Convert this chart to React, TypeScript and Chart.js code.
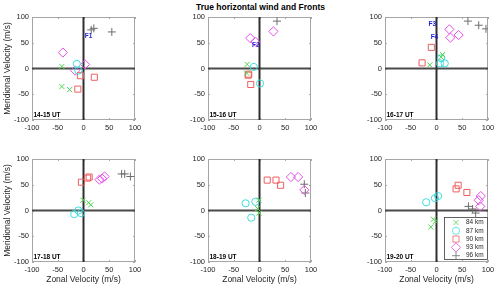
import React, { useEffect, useRef } from 'react';
import { Chart, registerables } from 'chart.js';
import { drawPoint } from 'chart.js/helpers';

Chart.register(...registerables);

type Pt = [number, number];

const altitudes = ['84 km', '87 km', '90 km', '93 km', '96 km'];
const panelLabels = ['14-15 UT', '15-16 UT', '16-17 UT', '17-18 UT', '18-19 UT', '19-20 UT'];
const axisTicks = [-100, -50, 0, 50, 100];
const chartTitle = 'True horizontal wind and Fronts';
const xTitle = 'Zonal Velocity (m/s)';
const yTitle = 'Meridional Velocity (m/s)';

// [zonal, meridional] in m/s
const ut14_84: Pt[] = [[-42, 4], [-42, -35], [-27, -41]];
const ut14_87: Pt[] = [[-13, 9], [-10, -4]];
const ut14_90: Pt[] = [[-6, -14], [21, -17], [-11, -40]];
const ut14_93: Pt[] = [[-40, 31], [3, 8], [-16, -4]];
const ut14_96: Pt[] = [[15, 75], [20, 78], [55, 71]];

const ut15_84: Pt[] = [[-24, 8], [-25, -9]];
const ut15_87: Pt[] = [[-11, 3], [1, -29]];
const ut15_90: Pt[] = [[-22, -13], [-21, -11], [-17, -31]];
const ut15_93: Pt[] = [[27, 72], [-18, 59], [-8, 52]];
const ut15_96: Pt[] = [[34, 92]];

const ut16_84: Pt[] = [[-13, 7], [12, 27], [9, 22]];
const ut16_87: Pt[] = [[7, 10], [16, 10], [9, 20]];
const ut16_90: Pt[] = [[-10, 41], [-28, 11]];
const ut16_93: Pt[] = [[25, 76], [27, 60], [43, 65]];
const ut16_96: Pt[] = [[61, 92], [82, 84], [96, 77]];

const ut17_84: Pt[] = [[-1, 20], [10, 15], [14, 11]];
const ut17_87: Pt[] = [[-18, -7], [-10, 0], [-5, -5]];
const ut17_90: Pt[] = [[-4, 55], [8, 63], [11, 65]];
const ut17_93: Pt[] = [[31, 60], [41, 66], [36, 62]];
const ut17_96: Pt[] = [[74, 71], [80, 71], [91, 66]];

const ut18_84: Pt[] = [[-1, 20], [-4, 4], [-1, -5]];
const ut18_87: Pt[] = [[-27, 14], [-8, 17], [-16, -14]];
const ut18_90: Pt[] = [[15, 59], [32, 59], [41, 49]];
const ut18_93: Pt[] = [[61, 65], [75, 65], [87, 40]];
const ut18_96: Pt[] = [[87, 51], [89, 34]];

const ut19_84: Pt[] = [[-6, -17], [-2, -21], [-11, -32]];
const ut19_87: Pt[] = [[-20, 16], [-3, 24], [3, 28]];
const ut19_90: Pt[] = [[42, 49], [38, 42], [59, 35]];
const ut19_93: Pt[] = [[86, 28], [82, 20], [85, 8]];
const ut19_96: Pt[] = [[62, 8], [70, 3], [76, -5]];

const frontLabels = ['F1', 'F2', 'F3', 'F4'];
const frontPanel = [0, 1, 2, 2];
const frontZonal = [10, -7, -8, -4];
const frontMerid = [63, 45, 86, 61];

const panelSeries: Pt[][][] = [
  [ut14_84, ut14_87, ut14_90, ut14_93, ut14_96],
  [ut15_84, ut15_87, ut15_90, ut15_93, ut15_96],
  [ut16_84, ut16_87, ut16_90, ut16_93, ut16_96],
  [ut17_84, ut17_87, ut17_90, ut17_93, ut17_96],
  [ut18_84, ut18_87, ut18_90, ut18_93, ut18_96],
  [ut19_84, ut19_87, ut19_90, ut19_93, ut19_96],
];

const seriesStyle = [
  { pointStyle: 'crossRot', color: '#4fd44f', r: 3.6 },
  { pointStyle: 'circle', color: '#3edcdc', r: 3.6 },
  { pointStyle: 'rect', color: '#ee5f5f', r: 4.3 },
  { pointStyle: 'rectRot', color: '#e650e6', r: 4.6 },
  { pointStyle: 'cross', color: '#6e6e6e', r: 4 },
];

const FONT = 'Liberation Sans, Arial, Helvetica, sans-serif';
const plotLefts = [32, 208, 385];
const plotTops = [17, 159];
const PLOT = 103;
const YW = 32;
const PAD_T = 10;
const PAD_R = 12;

function Panel({ index }: { index: number }) {
  const ref = useRef<HTMLCanvasElement>(null);
  const col = index % 3;
  const row = Math.floor(index / 3);
  const xH = row === 1 ? 27 : 12;
  const width = YW + PLOT + PAD_R;
  const height = PAD_T + PLOT + xH;

  useEffect(() => {
    const canvas = ref.current;
    if (!canvas) return;
    const datasets = panelSeries[index].map((pts, s) => ({
      label: altitudes[s],
      data: pts.map(([x, y]) => ({ x, y })),
      pointStyle: seriesStyle[s].pointStyle as any,
      pointRadius: seriesStyle[s].r,
      pointBorderColor: seriesStyle[s].color,
      pointBackgroundColor: 'rgba(0,0,0,0)',
      pointBorderWidth: 1,
      showLine: false,
    }));

    const deco = {
      id: 'deco',
      beforeDatasetsDraw(chart: any) {
        const { ctx, chartArea } = chart;
        const { left, right, top, bottom } = chartArea;
        ctx.save();
        ctx.strokeStyle = '#a6a6a6';
        ctx.lineWidth = 1;
        ctx.strokeRect(left + 0.5, top + 0.5, right - left - 1, bottom - top - 1);
        const xs = chart.scales.x;
        const ys = chart.scales.y;
        ctx.beginPath();
        axisTicks.forEach((v) => {
          const px = Math.round(xs.getPixelForValue(v)) + 0.5;
          ctx.moveTo(px, bottom);
          ctx.lineTo(px, bottom - 2);
          ctx.moveTo(px, top);
          ctx.lineTo(px, top + 2);
          const py = Math.round(ys.getPixelForValue(v)) + 0.5;
          ctx.moveTo(left, py);
          ctx.lineTo(left + 2, py);
          ctx.moveTo(right, py);
          ctx.lineTo(right - 2, py);
        });
        ctx.stroke();
        // zero axes
        const x0 = xs.getPixelForValue(0);
        const y0 = ys.getPixelForValue(0);
        ctx.lineWidth = 2;
        ctx.strokeStyle = '#4a4a4a';
        ctx.beginPath();
        ctx.moveTo(left, y0);
        ctx.lineTo(right, y0);
        ctx.stroke();
        ctx.strokeStyle = '#2e2e2e';
        ctx.beginPath();
        ctx.moveTo(x0, top);
        ctx.lineTo(x0, bottom);
        ctx.stroke();
        ctx.restore();
      },
      afterDatasetsDraw(chart: any) {
        const { ctx, chartArea } = chart;
        const { left, right, bottom } = chartArea;
        const xs = chart.scales.x;
        const ys = chart.scales.y;
        ctx.save();
        // front labels
        ctx.fillStyle = '#1f1fd6';
        ctx.font = `bold 6.5px ${FONT}`;
        ctx.textAlign = 'center';
        ctx.textBaseline = 'middle';
        frontLabels.forEach((lab, i) => {
          if (frontPanel[i] !== index) return;
          ctx.fillText(lab, xs.getPixelForValue(frontZonal[i]), ys.getPixelForValue(frontMerid[i]));
        });
        // legend
        if (index === 5) {
          const bw = 44;
          const bh = 43;
          const bx = right - bw;
          const by = bottom - 2 - bh;
          ctx.fillStyle = '#ffffff';
          ctx.fillRect(bx, by, bw, bh);
          ctx.strokeStyle = '#3a3a3a';
          ctx.lineWidth = 0.8;
          ctx.strokeRect(bx + 0.5, by + 0.5, bw - 1, bh - 1);
          ctx.font = `6.5px ${FONT}`;
          ctx.textAlign = 'left';
          ctx.textBaseline = 'middle';
          altitudes.forEach((a, s) => {
            const yy = by + 5.5 + s * 8.3;
            ctx.strokeStyle = seriesStyle[s].color;
            ctx.fillStyle = 'rgba(0,0,0,0)';
            drawPoint(ctx, { pointStyle: seriesStyle[s].pointStyle as any, radius: seriesStyle[s].r, rotation: 0, borderWidth: 1 } as any, bx + 12, yy);
            ctx.fillStyle = '#262626';
            ctx.fillText(a, bx + 22, yy);
          });
        }
        // panel label
        ctx.fillStyle = '#000000';
        ctx.font = `bold 6.5px ${FONT}`;
        ctx.textAlign = 'left';
        ctx.textBaseline = 'alphabetic';
        ctx.fillText(panelLabels[index], left + 1.5, bottom - 3.5);
        ctx.restore();
      },
    };

    const tickFont = { family: FONT, size: 7.5 };
    const titleFont = { family: FONT, size: 8.5 };

    const chart = new Chart(canvas, {
      type: 'scatter',
      data: { datasets: datasets as any },
      options: {
        animation: false,
        responsive: false,
        events: [],
        layout: { padding: { left: 0, top: PAD_T, right: PAD_R, bottom: 0 } },
        plugins: { legend: { display: false }, tooltip: { enabled: false } },
        scales: {
          x: {
            type: 'linear',
            min: -100,
            max: 100,
            afterBuildTicks: (s: any) => {
              s.ticks = axisTicks.map((v) => ({ value: v }));
            },
            afterFit: (s: any) => {
              s.height = xH;
            },
            ticks: { font: tickFont, color: '#262626', padding: 3, maxRotation: 0, autoSkip: false },
            grid: { display: false, drawTicks: false },
            border: { display: false },
            title: { display: row === 1, text: xTitle, font: titleFont, color: '#262626', padding: { top: 0, bottom: 4 } },
          },
          y: {
            type: 'linear',
            min: -100,
            max: 100,
            afterBuildTicks: (s: any) => {
              s.ticks = axisTicks.map((v) => ({ value: v }));
            },
            afterFit: (s: any) => {
              s.width = YW;
            },
            ticks: { font: tickFont, color: '#262626', padding: 3, autoSkip: false },
            grid: { display: false, drawTicks: false },
            border: { display: false },
            title: { display: col === 0, text: yTitle, font: titleFont, color: '#262626', padding: { top: 3, bottom: 0 } },
          },
        },
      },
      plugins: [deco],
    });
    return () => chart.destroy();
  }, [index]);

  return (
    <canvas
      ref={ref}
      width={width}
      height={height}
      style={{
        position: 'absolute',
        left: plotLefts[col] - YW,
        top: plotTops[row] - PAD_T,
        width,
        height,
      }}
    />
  );
}

export default function App() {
  useEffect(() => {
    document.body.style.margin = '0';
  }, []);
  return (
    <div style={{ position: 'relative', width: 500, height: 289, overflow: 'hidden', background: '#fff' }}>
      <div
        style={{
          position: 'absolute',
          left: 160,
          width: 201,
          top: 2,
          textAlign: 'center',
          font: `bold 8.5px ${FONT}`,
          lineHeight: '10px',
          color: '#000',
          whiteSpace: 'nowrap',
        }}
      >
        {chartTitle}
      </div>
      {[0, 1, 2, 3, 4, 5].map((i) => (
        <Panel key={i} index={i} />
      ))}
    </div>
  );
}
